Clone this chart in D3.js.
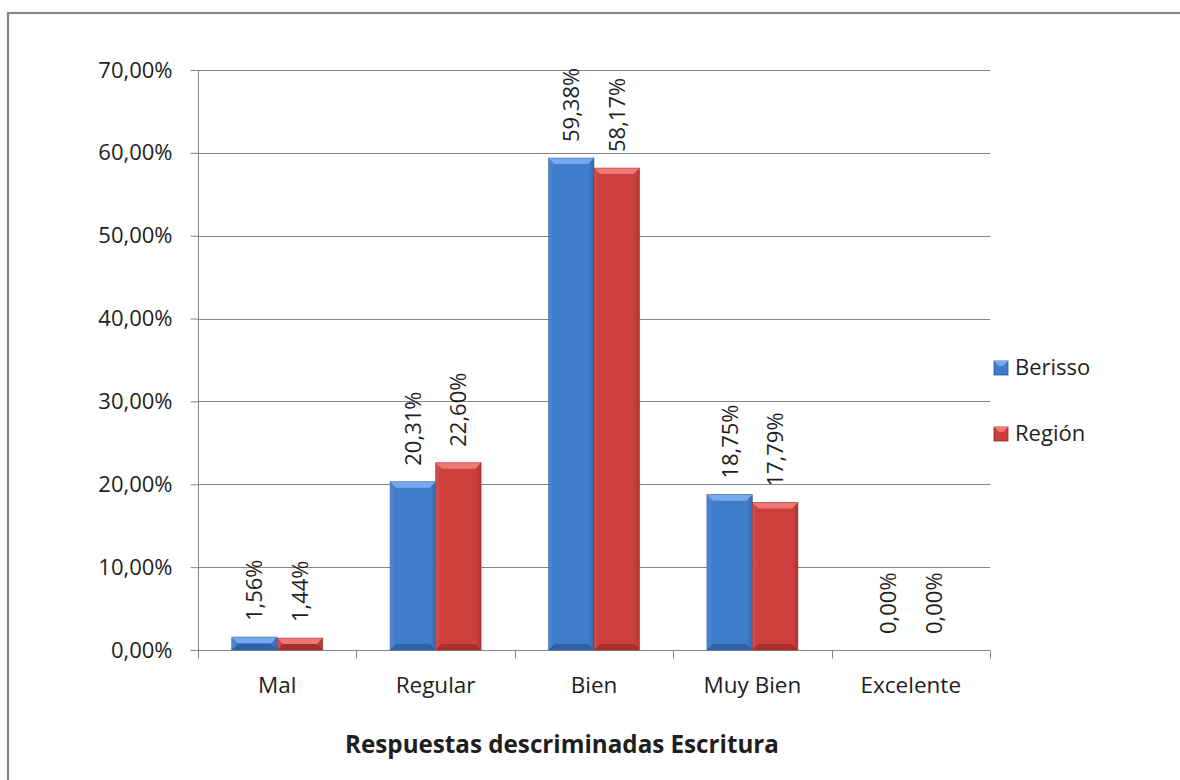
<!DOCTYPE html>
<html>
<head>
<meta charset="utf-8">
<script src="https://cdn.jsdelivr.net/npm/d3@7"></script>
<style>
html,body{margin:0;padding:0;background:#fff;}
svg{display:block;}
text{font-family:"Open Sans","Liberation Sans",sans-serif;fill:#1e1e1e;}
</style>
</head>
<body>
<svg id="chart" width="1180" height="780"></svg>
<script>
const categories = ["Mal", "Regular", "Bien", "Muy Bien", "Excelente"];
const seriesNames = ["Berisso", "Región"];
const berisso = [1.56, 20.31, 59.38, 18.75, 0.00];
const region = [1.44, 22.60, 58.17, 17.79, 0.00];
const yTicks = [0, 10, 20, 30, 40, 50, 60, 70];
const title = "Respuestas descriminadas Escritura";

const seriesValues = [berisso, region];
const colors = {
  "Berisso": {top: "#76aaee", mid: "#3f7dca", bot: "#2d62aa", edge: "#2a5996"},
  "Región": {top: "#ee7876", mid: "#cc3f3d", bot: "#a92e2c", edge: "#922826"}
};

const svg = d3.select("#chart");
const W = 1180, H = 780;
const m = {left: 198, right: 190, top: 70, bottom: 130};
const x0 = m.left, x1 = W - m.right, yT = m.top, yB = H - m.bottom;

// outer frame
svg.append("rect").attr("x", 8).attr("y", 13).attr("width", W + 10).attr("height", H + 10)
  .attr("fill", "#fff").attr("stroke", "#868686").attr("stroke-width", 2.2);

const x = d3.scaleBand().domain(categories).range([x0, x1]).paddingInner(0.425).paddingOuter(0.2125);
const xs = d3.scaleBand().domain(seriesNames).range([0, x.bandwidth()]).padding(0);
const y = d3.scaleLinear().domain([0, 70]).range([yB, yT]);

const fmt = v => d3.format(".2f")(v).replace(".", ",") + "%";

const defs = svg.append("defs");
seriesNames.forEach((s, i) => {
  const h = defs.append("linearGradient").attr("id", "h" + i).attr("x1", 0).attr("y1", 0).attr("x2", 1).attr("y2", 0);
  h.append("stop").attr("offset", "0%").attr("stop-color", "#fff").attr("stop-opacity", 0.10);
  h.append("stop").attr("offset", "12%").attr("stop-color", "#fff").attr("stop-opacity", 0);
  h.append("stop").attr("offset", "88%").attr("stop-color", "#000").attr("stop-opacity", 0);
  h.append("stop").attr("offset", "100%").attr("stop-color", "#000").attr("stop-opacity", 0.15);
});

// gridlines
svg.append("g").selectAll("line").data(yTicks).join("line")
  .attr("x1", x0).attr("x2", x1).attr("y1", d => Math.round(y(d)) + 0.5).attr("y2", d => Math.round(y(d)) + 0.5)
  .attr("stroke", "#868686").attr("stroke-width", 1);

// y axis
const yAxis = d3.axisLeft(y).tickValues(yTicks).tickSize(8).tickPadding(18).tickFormat(fmt);
const gy = svg.append("g").attr("transform", `translate(${x0 + 0.5},0)`).call(yAxis);
gy.select(".domain").attr("stroke", "#868686").attr("d", `M0,${yT}V${yB + 0.5}`);
gy.selectAll(".tick line").attr("stroke", "#868686");
gy.selectAll(".tick text").style("font-family", "Open Sans, Liberation Sans, sans-serif").style("font-size", "22px").attr("fill", "#1e1e1e");

// x axis
const gx = svg.append("g").attr("transform", `translate(0,${Math.round(yB) + 0.5})`);
gx.append("line").attr("x1", x0).attr("x2", x1).attr("stroke", "#868686");
const bounds = categories.map(c => x(c) - x.step() * x.paddingInner() / 2).concat([x1]);
gx.selectAll("line.tk").data(bounds).join("line").attr("class", "tk")
  .attr("x1", d => Math.round(d) + 0.5).attr("x2", d => Math.round(d) + 0.5).attr("y1", 0).attr("y2", 8).attr("stroke", "#868686");
gx.selectAll("text").data(categories).join("text")
  .attr("x", d => x(d) + x.bandwidth() / 2).attr("y", 42)
  .attr("text-anchor", "middle").style("font-size", "22.5px").text(d => d);

// bars
const bars = [];
categories.forEach((c, ci) => seriesNames.forEach((s, si) => bars.push({c, s, si, v: seriesValues[si][ci]})));
const bg = svg.append("g");
bars.forEach(b => {
  const bx = x(b.c) + xs(b.s), bw = xs.bandwidth();
  const by = y(b.v), bh = yB - by;
  if (bh <= 0.5) return;
  const g = bg.append("g");
  g.append("rect").attr("x", bx).attr("y", by).attr("width", bw).attr("height", bh).attr("fill", colors[b.s].mid);
  g.append("rect").attr("x", bx).attr("y", by).attr("width", bw).attr("height", bh).attr("fill", `url(#h${b.si})`);
  const bv = Math.min(6, bh / 2);
  g.append("path").attr("d", `M${bx},${by}H${bx + bw}L${bx + bw - bv},${by + bv}H${bx + bv}Z`).attr("fill", colors[b.s].top);
  g.append("path").attr("d", `M${bx},${yB}H${bx + bw}L${bx + bw - bv},${yB - bv}H${bx + bv}Z`).attr("fill", colors[b.s].bot);
  g.append("rect").attr("x", bx).attr("y", by).attr("width", bw).attr("height", bh)
    .attr("fill", "none").attr("stroke", colors[b.s].edge).attr("stroke-width", 0.8).attr("stroke-opacity", 0.6);
});

// data labels
svg.append("g").selectAll("text").data(bars).join("text")
  .attr("transform", d => `translate(${x(d.c) + xs(d.s) + xs.bandwidth() / 2 + 8},${y(d.v) - 16}) rotate(-90)`)
  .attr("text-anchor", "start").style("font-size", "22px").text(d => fmt(d.v));

// legend
const lg = svg.append("g");
seriesNames.forEach((s, i) => {
  const ly = 361 + i * 66;
  lg.append("rect").attr("x", 994).attr("y", ly).attr("width", 14).attr("height", 14).attr("fill", colors[s].mid)
    .attr("stroke", colors[s].edge).attr("stroke-width", 0.8);
  lg.append("path").attr("d", `M994,${ly}H1008L1003,${ly + 5}H999Z`).attr("fill", colors[s].top);
  lg.append("text").attr("x", 1015).attr("y", ly + 14).style("font-size", "22px").text(s);
});

// title
svg.append("text").attr("x", 562).attr("y", 753).attr("text-anchor", "middle")
  .style("font-size", "24.2px").style("font-weight", "bold").attr("fill", "#000").text(title);
</script>
</body>
</html>
